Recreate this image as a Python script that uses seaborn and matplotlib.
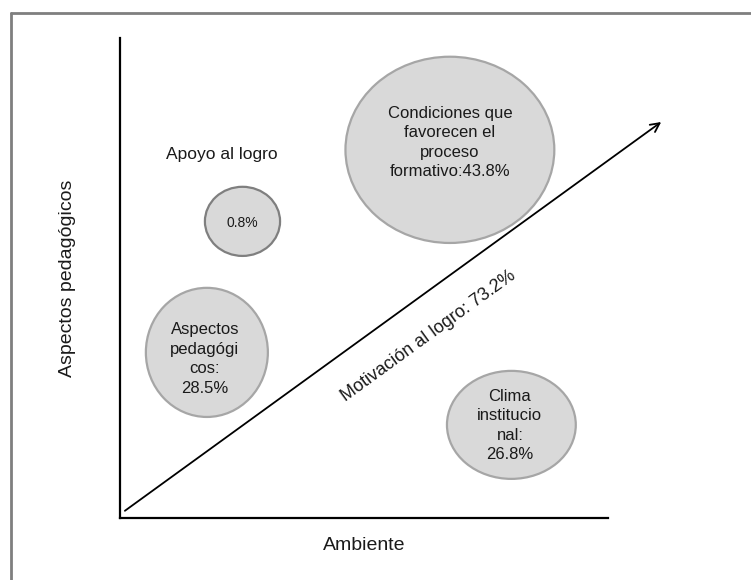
import matplotlib
matplotlib.use("Agg")
import matplotlib.pyplot as plt
from matplotlib.patches import Ellipse
from matplotlib.lines import Line2D
import seaborn as sns

# bubble data (diagram units, 0-10 on both axes)
names = ["Condiciones que\nfavorecen el\nproceso\nformativo:", "",
         "Aspectos\npedagógi\ncos:\n", "Clima\ninstitucio\nnal:\n"]
percents = [43.8, 0.8, 28.5, 26.8]
bubble_x = [6.76, 2.51, 1.78, 8.02]
bubble_y = [7.67, 6.18, 3.45, 1.94]
bubble_w = [4.28, 1.54, 2.50, 2.64]
bubble_h = [3.88, 1.44, 2.69, 2.25]
text_x = [6.76, 2.51, 1.74, 7.99]
text_y = [7.82, 6.15, 3.31, 1.93]
text_size = [12, 10, 12, 12]
edge_colors = ["#a6a6a6", "#7f7f7f", "#a6a6a6", "#a6a6a6"]

arrow_start = (0.10, 0.15)
arrow_end = (11.09, 8.25)
arrow_label = "Motivación al logro: 73.2%"
arrow_value_pos = (6.38, 3.71)

sns.set_style("white")
plt.rcParams['font.family'] = ['Liberation Sans', 'DejaVu Sans']

fig = plt.figure(figsize=(7.51, 5.80), dpi=100)
ax = fig.add_axes([120 / 751, 1 - 518 / 580, 488 / 751, 480 / 580])
ax.set_xlim(0, 10)
ax.set_ylim(0, 10)

for i in range(len(percents)):
    ax.add_patch(Ellipse((bubble_x[i], bubble_y[i]), bubble_w[i], bubble_h[i],
                         facecolor="#d9d9d9", edgecolor=edge_colors[i],
                         lw=1.6, zorder=2))
    ax.text(text_x[i], text_y[i], f"{names[i]}{percents[i]}%", ha="center", va="center",
            fontsize=text_size[i], linespacing=1.38, color="#1a1a1a", zorder=3)

ax.text(2.09, 7.58, "Apoyo al logro", ha="center", va="center", fontsize=12.5, color="#1a1a1a")

# diagonal arrow
ax.annotate("", xy=arrow_end, xytext=arrow_start,
            arrowprops=dict(arrowstyle="->", color="black", lw=1.3,
                            mutation_scale=16, shrinkA=0, shrinkB=0),
            annotation_clip=False, zorder=4)
ax.text(arrow_value_pos[0], arrow_value_pos[1], arrow_label, rotation=36,
        rotation_mode="anchor", ha="center", va="baseline", fontsize=13, color="#1a1a1a")

sns.despine(ax=ax)
for s in ["left", "bottom"]:
    ax.spines[s].set_color("black")
    ax.spines[s].set_linewidth(1.6)
ax.set_xticks([])
ax.set_yticks([])
ax.set_xlabel("Ambiente", fontsize=14, color="#1a1a1a")
ax.set_ylabel("Aspectos pedagógicos", fontsize=14, color="#1a1a1a")
ax.xaxis.set_label_coords(0.501, -0.040)
ax.yaxis.set_label_coords(-0.09, 0.5)

# outer frame (left and top edges)
fig.add_artist(Line2D([11 / 751, 11 / 751], [0, 1 - 13 / 580], transform=fig.transFigure,
                      color="#7f7f7f", lw=2))
fig.add_artist(Line2D([11 / 751, 1], [1 - 13 / 580, 1 - 13 / 580], transform=fig.transFigure,
                      color="#7f7f7f", lw=2))

plt.savefig("out.png", dpi=100)
plt.close()
